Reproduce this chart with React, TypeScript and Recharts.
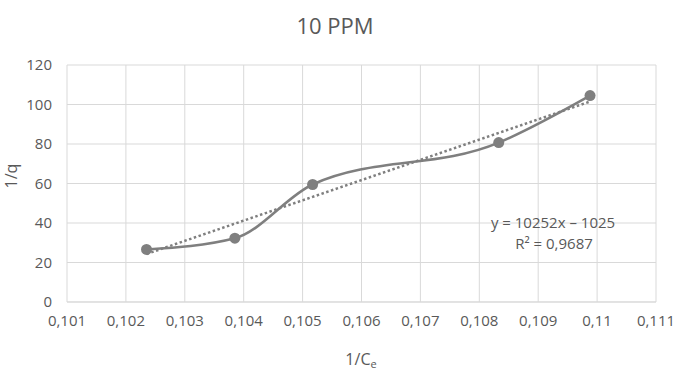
import { LineChart, Line, XAxis, YAxis, CartesianGrid } from 'recharts';

// 1/Ce vs 1/q
const invCe = [0.10235, 0.10385, 0.10517, 0.10833, 0.10988];
const invQ = [26.6, 32.3, 59.5, 80.7, 104.5];

// linear trendline endpoints (y = 10252x - 1025)
const trendX = [0.10235, 0.10988];
const trendY = [24.3, 101.5];

const xTicks = [0.101, 0.102, 0.103, 0.104, 0.105, 0.106, 0.107, 0.108, 0.109, 0.11, 0.111];
const yTicks = [0, 20, 40, 60, 80, 100, 120];

const title = '10 PPM';
const trendEq = 'y = 10252x – 1025';
const trendR2 = 'R² = 0,9687';

const points = invCe.map((x, i) => ({ x, y: invQ[i] }));
const trend = trendX.map((x, i) => ({ x, y: trendY[i] }));

const font = '"Open Sans", sans-serif';
const txt = '#595959';
const grey = '#7f7f7f';

const fmt = (v: number) => String(parseFloat(v.toFixed(3))).replace('.', ',');

export default function App() {
  return (
    <div style={{ position: 'absolute', left: 0, top: 0, width: 685, height: 371, background: '#fff' }}>
      <LineChart
        width={685}
        height={371}
        margin={{ top: 65, right: 29, bottom: 0, left: 0 }}
      >
        <CartesianGrid stroke="#d9d9d9" strokeWidth={1} />
        <XAxis
          type="number"
          dataKey="x"
          domain={[0.101, 0.111]}
          ticks={xTicks}
          interval={0}
          tickFormatter={fmt}
          height={69}
          stroke="#d9d9d9"
          tickLine={false}
          tickSize={0}
          tickMargin={13}
          tick={{ fill: txt, fontSize: 15, fontFamily: font }}
        />
        <YAxis
          type="number"
          dataKey="y"
          domain={[0, 120]}
          ticks={yTicks}
          interval={0}
          width={67}
          axisLine={false}
          tickLine={false}
          tickSize={0}
          tickMargin={15}
          tick={{ fill: txt, fontSize: 15, fontFamily: font }}
        />
        <Line
          data={points}
          dataKey="y"
          type="monotone"
          stroke={grey}
          strokeWidth={2.5}
          dot={{ r: 5.5, fill: grey, stroke: grey, strokeWidth: 0 }}
          isAnimationActive={false}
        />
        <Line
          data={trend}
          dataKey="y"
          type="linear"
          stroke={grey}
          strokeWidth={2.5}
          strokeDasharray="2.5 2.5"
          dot={false}
          isAnimationActive={false}
        />
      </LineChart>
      <svg
        width={685}
        height={371}
        style={{ position: 'absolute', left: 0, top: 0, pointerEvents: 'none' }}
        fontFamily={font}
        fill={txt}
      >
        <text x={335} y={34} fontSize={22} textAnchor="middle">{title}</text>
        <text x={553} y={228} fontSize={15} textAnchor="middle">{trendEq}</text>
        <text x={554} y={249} fontSize={15} textAnchor="middle">{trendR2}</text>
        <text x={17} y={176} fontSize={16} textAnchor="middle" transform="rotate(-90 17 176)">1/q</text>
        <text x={361} y={365} fontSize={16} textAnchor="middle">
          1/C<tspan fontSize={11} dy={3}>e</tspan>
        </text>
      </svg>
    </div>
  );
}
